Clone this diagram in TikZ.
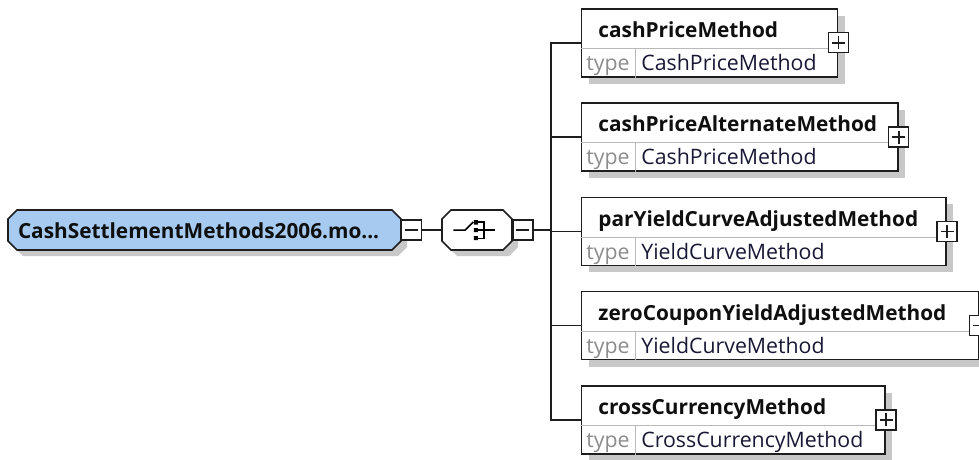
\documentclass[tikz,border=0pt]{standalone}
\usepackage{fontspec}
\setmainfont{Open Sans}
\usepackage{tikz}
\usetikzlibrary{positioning,shadows}
\usepackage{xcolor}
\definecolor{xsline}{RGB}{30,30,30}
\definecolor{xssep}{RGB}{185,185,185}
\definecolor{xsshadow}{RGB}{200,200,200}
\definecolor{xsgray}{RGB}{140,140,140}
\definecolor{xsname}{RGB}{15,15,15}
\definecolor{xstype}{RGB}{25,25,55}
\definecolor{xsblue}{RGB}{166,202,240}
% octagon from left, top, right, bottom
\newcommand{\octagon}[4]{(#1+9,#2) -- (#3-9,#2) -- (#3,#2+9) -- (#3,#4-9) -- (#3-9,#4) -- (#1+9,#4) -- (#1,#4-9) -- (#1,#2+9) -- cycle}
\tikzstyle{xshadow} = [drop shadow={shadow xshift=7pt, shadow yshift=-7pt, fill=xsshadow, opacity=1}]
\tikzstyle{octline} = [draw=xsline, line width=1.6pt]
\tikzstyle{roottext} = [rectangle, inner xsep=10pt, inner ysep=0pt, outer sep=0pt, text width=373pt, minimum height=40pt, align=left, font=\fontsize{20.8}{22}\selectfont\bfseries, text=xsname]
\tikzstyle{seqspot} = [rectangle, inner sep=0pt, outer sep=0pt, minimum width=70pt, minimum height=40pt]
\tikzstyle{elembox} = [rectangle, anchor=north west, draw=xsline, fill=white, line width=1.7pt, minimum height=68pt, inner sep=0pt, xshadow]
\tikzstyle{sepline} = [draw=xssep, line width=1pt]
\tikzstyle{elemname} = [anchor=base west, inner sep=0pt, font=\fontsize{20.8}{22}\selectfont\bfseries, text=xsname]
\tikzstyle{typelbl} = [anchor=base west, inner sep=0pt, font=\fontsize{21.3}{22}\selectfont, text=xsgray]
\tikzstyle{typeval} = [anchor=base west, inner sep=0pt, font=\fontsize{21.3}{22}\selectfont, text=xstype]
\tikzstyle{minusbox} = [rectangle, draw=xsline, fill=white, line width=1.3pt, minimum size=20pt, inner sep=0pt, path picture={\draw[line width=1.7pt] ([xshift=3.5pt]path picture bounding box.west) -- ([xshift=-3.5pt]path picture bounding box.east);}]
\tikzstyle{plusbox} = [rectangle, draw=xsline, fill=white, line width=1.3pt, minimum size=20pt, inner sep=0pt, path picture={\draw[line width=1.7pt] ([xshift=3.5pt]path picture bounding box.west) -- ([xshift=-3.5pt]path picture bounding box.east) ([yshift=-3.5pt]path picture bounding box.north) -- ([yshift=3.5pt]path picture bounding box.south);}]
\tikzstyle{wire} = [draw=xsline, line width=1.6pt]

\begin{document}
\begin{tikzpicture}[x=1pt,y=-1pt]
\useasboundingbox[fill=white] (0,0) rectangle (979,460);

% root element and sequence
\fill[xsshadow] \octagon{14}{216}{407}{256};
\draw[octline, fill=xsblue] \octagon{8}{210}{401}{250};
\fill[xsshadow] \octagon{448}{216}{518}{256};
\draw[octline, fill=white] \octagon{442}{210}{512}{250};
\node (root) [roottext, anchor=west] at (8,231) {CashSettlementMethods2006.mo...};
\node (rootmin) [minusbox, anchor=west] at (401,230) {};
\node (seq) [seqspot, right=20pt of rootmin] {};
\node (seqmin) [minusbox, anchor=west] at (seq.east) {};
\coordinate (bus) at (551,230);

% sequence icon
\begin{scope}[shift={(seq.center)}, line width=1.5pt]
\draw (-24,0) -- (-12,0) -- (-4,-8);
\fill (-3.5,-10) rectangle (0.5,-5.5) (-3.5,-2) rectangle (0.5,2) (-3.5,6) rectangle (0.5,10);
\draw (0.5,-8) -- (6.5,-8) -- (6.5,8.5) -- (0.5,8.5) (0.5,0) -- (18,0);
\end{scope}

% child elements
\foreach \i/\w/\nm/\tp in {1/256/cashPriceMethod/CashPriceMethod,
  2/316.3/cashPriceAlternateMethod/CashPriceMethod,
  3/364.6/parYieldCurveAdjustedMethod/YieldCurveMethod,
  4/397/zeroCouponYieldAdjustedMethod/YieldCurveMethod,
  5/303.6/crossCurrencyMethod/CrossCurrencyMethod} {
  \pgfmathsetmacro{\ytop}{8+94.25*(\i-1)}
  \node (e\i) [elembox, minimum width=\w pt] at (580.7,\ytop) {};
  \draw[sepline] ([yshift=-40.5pt]e\i.north west) -- ([yshift=-40.5pt]e\i.north east);
  \draw[sepline] ([xshift=54.5pt,yshift=-40.5pt]e\i.north west) -- ([xshift=54.5pt]e\i.south west);
  \node[elemname] at ([xshift=17.5pt,yshift=-29.5pt]e\i.north west) {\nm};
  \node[typelbl] at ([xshift=5.5pt,yshift=-62.5pt]e\i.north west) {type};
  \node[typeval] at ([xshift=60.5pt,yshift=-62.5pt]e\i.north west) {\tp};
  \node (p\i) [plusbox] at (e\i.east) {};
}

% connectors
\draw[wire] (rootmin) -- (seq);
\draw[wire] (seqmin) -- (bus);
\foreach \i in {1,...,5} {
  \draw[wire] (bus) |- (e\i.west);
}
\end{tikzpicture}
\end{document}
